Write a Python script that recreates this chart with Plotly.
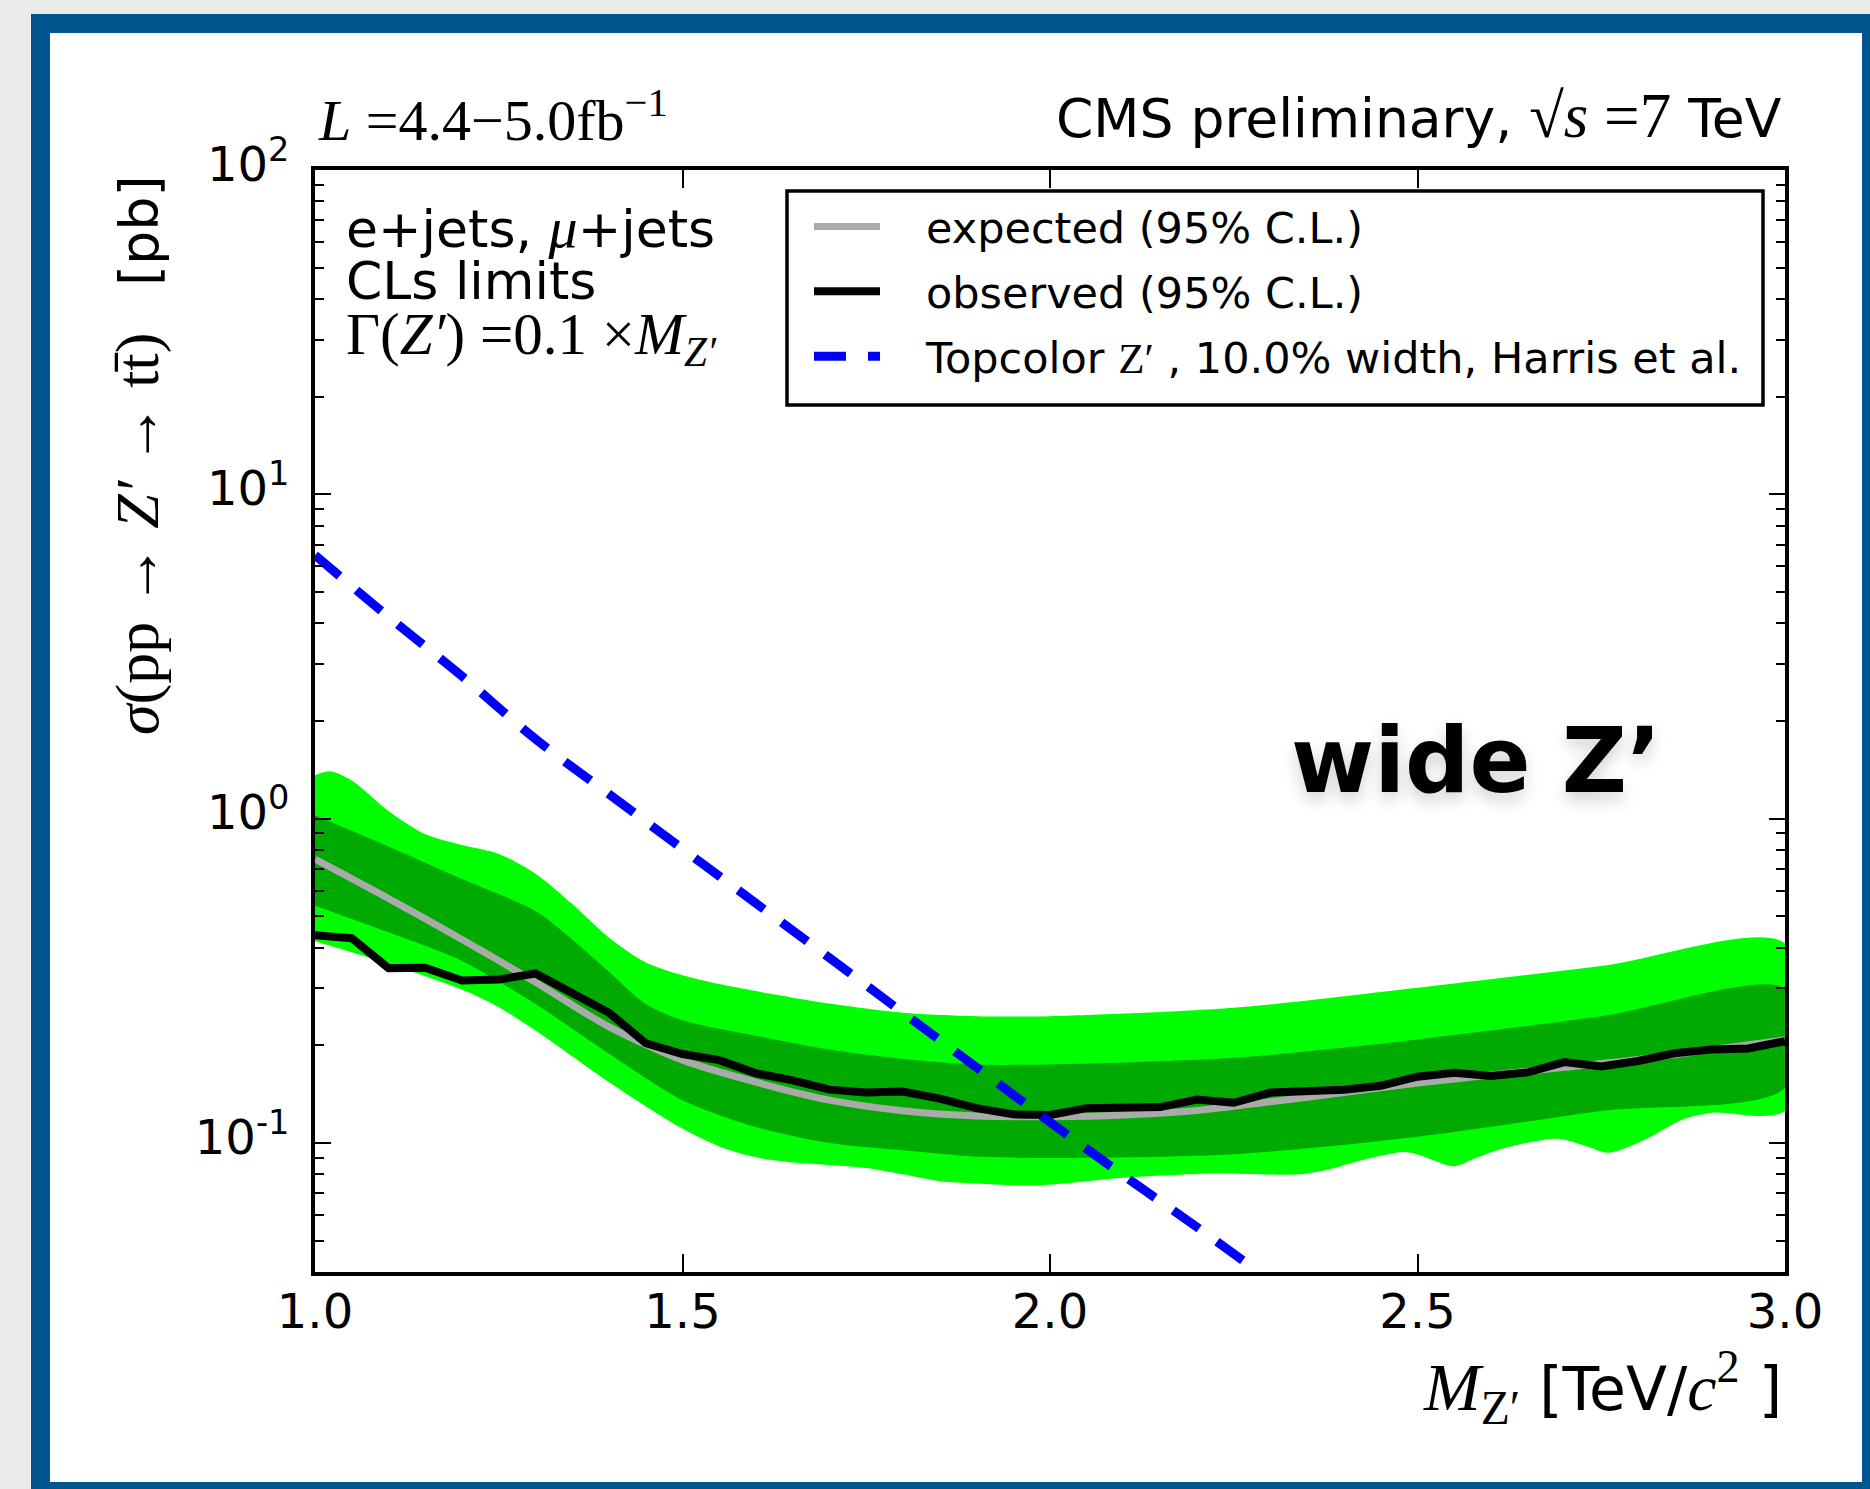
import math
import plotly.graph_objects as go

# ---------------- data ----------------
mass_obs = [1.00, 1.05, 1.10, 1.15, 1.20, 1.25, 1.30, 1.35, 1.40, 1.45, 1.50, 1.55, 1.60, 1.65,
            1.70, 1.75, 1.80, 1.85, 1.90, 1.95, 2.00, 2.05, 2.10, 2.15, 2.20, 2.25, 2.30, 2.35,
            2.40, 2.45, 2.50, 2.55, 2.60, 2.65, 2.70, 2.75, 2.80, 2.85, 2.90, 2.95, 3.00]
xsec_obs = [0.437, 0.428, 0.346, 0.347, 0.317, 0.319, 0.333, 0.290, 0.252, 0.203, 0.188, 0.180,
            0.164, 0.156, 0.146, 0.143, 0.144, 0.137, 0.128, 0.1225, 0.122, 0.128, 0.128, 0.129,
            0.136, 0.133, 0.143, 0.1446, 0.146, 0.150, 0.160, 0.1645, 0.161, 0.165, 0.1775,
            0.172, 0.179, 0.189, 0.194, 0.1955, 0.206]

mass_exp = [1.0, 1.1, 1.2, 1.3, 1.4, 1.5, 1.6, 1.7, 1.8, 1.9, 2.0, 2.1, 2.2, 2.3, 2.4, 2.5,
            2.6, 2.7, 2.8, 2.9, 3.0]
xsec_exp = [0.75, 0.567, 0.424, 0.313, 0.228, 0.180, 0.154, 0.1355, 0.1256, 0.121, 0.1205,
            0.122, 0.126, 0.134, 0.143, 0.153, 0.162, 0.171, 0.181, 0.194, 0.208]

mass_1s_up = [1.0, 1.1, 1.2, 1.3, 1.35, 1.4, 1.45, 1.5, 1.6, 1.7, 1.8, 1.9, 2.0, 2.25, 2.5, 2.75, 3.0]
xsec_1s_up = [1.024, 0.820, 0.651, 0.519, 0.424, 0.337, 0.268, 0.239, 0.214, 0.194, 0.1815,
              0.1746, 0.1746, 0.183, 0.2085, 0.246, 0.2985]
mass_1s_dn = [1.0, 1.1, 1.2, 1.3, 1.4, 1.5, 1.6, 1.7, 1.8, 1.9, 2.0, 2.25, 2.5, 2.75, 3.0]
xsec_1s_dn = [0.539, 0.446, 0.364, 0.268, 0.1884, 0.1355, 0.112, 0.100, 0.095, 0.0908, 0.0899,
              0.0923, 0.1045, 0.1254, 0.148]

mass_2s_up = [1.0, 1.02, 1.05, 1.1, 1.15, 1.2, 1.25, 1.3, 1.35, 1.4, 1.45, 1.5, 1.55, 1.6, 1.7,
              1.8, 1.9, 2.0, 2.25, 2.5, 2.75, 3.0]
xsec_2s_up = [1.36, 1.40, 1.31, 1.055, 0.895, 0.829, 0.778, 0.676, 0.545, 0.429, 0.360, 0.329,
              0.309, 0.294, 0.269, 0.252, 0.246, 0.246, 0.261, 0.301, 0.351, 0.412]
mass_2s_dn = [1.0, 1.1, 1.2, 1.25, 1.3, 1.4, 1.5, 1.55, 1.6, 1.65, 1.7, 1.75, 1.8, 1.85, 1.9,
              1.98, 2.10, 2.22, 2.34, 2.38, 2.42, 2.48, 2.50, 2.55, 2.58, 2.62, 2.69, 2.73,
              2.76, 2.81, 2.86, 2.90, 3.0]
xsec_2s_dn = [0.419, 0.357, 0.297, 0.262, 0.222, 0.154, 0.1107, 0.0975, 0.0903, 0.087, 0.0855,
              0.0837, 0.080, 0.0762, 0.0750, 0.0739, 0.0781, 0.0805, 0.080, 0.0829, 0.0879,
              0.0937, 0.0922, 0.0848, 0.090, 0.0966, 0.103, 0.0977, 0.0933, 0.1025, 0.118,
              0.124, 0.126]

mass_theory = [1.0, 1.1, 1.2, 1.3, 1.4, 1.5, 1.6, 1.7, 1.8, 1.9, 2.0, 2.1, 2.2, 2.27]
xsec_theory = [6.49, 4.19, 2.75, 1.76, 1.19, 0.807, 0.548, 0.372, 0.252, 0.171, 0.116,
               0.0794, 0.055, 0.0422]

x_ticks = [1.0, 1.5, 2.0, 2.5, 3.0]
x_ticklabels = ["1.0", "1.5", "2.0", "2.5", "3.0"]
y_ticks = [0.1, 1, 10, 100]
y_ticklabels = ["10<sup>-1</sup>", "10<sup>0</sup>", "10<sup>1</sup>", "10<sup>2</sup>"]
y_minor = [0.05, 0.06, 0.07, 0.08, 0.09, 0.2, 0.3, 0.4, 0.5, 0.6, 0.7, 0.8, 0.9,
           2, 3, 4, 5, 6, 7, 8, 9, 20, 30, 40, 50, 60, 70, 80, 90]

legend_names = ["expected (95% C.L.)", "observed (95% C.L.)",
                "Topcolor <span style='font-family:Liberation Serif'>Z′</span> , 10.0% width, Harris et al."]

# ---------------- geometry ----------------
W, H = 1870, 1489
ML, MR, MT, MB = 315, 85, 170, 217
PW, PH = W - ML - MR, H - MT - MB


def px(X):
    return (X - ML) / PW


def py(Y):
    return (H - MB - Y) / PH


SERIF = "Liberation Serif"
SANS = "DejaVu Sans"
GAP = "\u00a0\u00a0\u00a0"
NB = "\u00a0"

fig = go.Figure()

fig.add_trace(go.Scatter(
    x=mass_2s_up + mass_2s_dn[::-1], y=xsec_2s_up + xsec_2s_dn[::-1],
    fill="toself", fillcolor="#00ff00", mode="lines",
    line=dict(width=0, color="#00ff00", shape="spline", smoothing=0.8),
    showlegend=False, hoverinfo="skip"))
fig.add_trace(go.Scatter(
    x=mass_1s_up + mass_1s_dn[::-1], y=xsec_1s_up + xsec_1s_dn[::-1],
    fill="toself", fillcolor="#00aa00", mode="lines",
    line=dict(width=0, color="#00aa00", shape="spline", smoothing=0.8),
    showlegend=False, hoverinfo="skip"))
fig.add_trace(go.Scatter(
    x=mass_exp, y=xsec_exp, mode="lines", name=GAP + legend_names[0],
    line=dict(color="#aaaaaa", width=7, shape="spline", smoothing=0.8),
    legendgroup="a"))
fig.add_trace(go.Scatter(
    x=mass_obs, y=xsec_obs, mode="lines", name=GAP + legend_names[1],
    line=dict(color="black", width=8), legendgroup="b"))
fig.add_trace(go.Scatter(
    x=mass_theory, y=xsec_theory, mode="lines", name=GAP + legend_names[2],
    line=dict(color="#0000ff", width=9, dash="32px,22px", shape="spline"), legendgroup="c"))

shapes = [
    dict(type="rect", xref="paper", yref="paper", x0=px(31), x1=px(1900), y0=py(14), y1=py(1510),
         fillcolor="#02568f", line=dict(width=0), layer="below"),
    dict(type="rect", xref="paper", yref="paper", x0=px(50), x1=px(1862), y0=py(33), y1=py(1482),
         fillcolor="white", line=dict(width=0), layer="below"),
    # legend frame
    dict(type="rect", xref="paper", yref="paper", x0=px(787), x1=px(1763), y0=py(191), y1=py(405),
         fillcolor="white", line=dict(width=3.5, color="black"), layer="above"),
]

annotations = [
    dict(text="<i>L</i> =4.4−5.0fb<sup>−1</sup>", x=px(316), y=py(116), xanchor="left",
         yanchor="middle", font=dict(family=SERIF, size=58, color="black")),
    dict(text="CMS preliminary, <span style='font-family:Liberation Serif;font-size:63px'>√<i>s</i>" + NB + "=7</span> TeV",
         x=px(1784), y=py(116), xanchor="right", yanchor="middle",
         font=dict(family=SANS, size=53.5, color="black")),
    dict(text="e+jets, <span style='font-family:Liberation Serif;font-size:58px'><i>μ</i></span>+jets",
         x=px(344), y=py(227), xanchor="left", yanchor="middle",
         font=dict(family=SANS, size=52, color="black")),
    dict(text="CLs limits", x=px(344), y=py(281), xanchor="left", yanchor="middle",
         font=dict(family=SANS, size=52, color="black")),
    dict(text="Γ(<i>Z′</i>) =0.1 ×<i>M</i><sub><i>Z′</i></sub>", x=px(344), y=py(338),
         xanchor="left", yanchor="middle", font=dict(family=SERIF, size=59, color="black")),
    dict(text="<b>wide Z’</b>", x=px(1476), y=py(760), xanchor="center", yanchor="middle",
         font=dict(family=SANS, size=90, color="black", shadow="0px 8px 16px rgba(0,0,0,0.18)")),
    dict(text="<span style='font-family:Liberation Serif;font-size:62px'><i>σ</i>(pp → <i>Z′</i> → tt\u0304)" + NB * 3 + "</span>[pb]",
         x=px(138), y=py(173), xanchor="center", yanchor="top", textangle=-90,
         font=dict(family=SANS, size=54, color="black")),
    dict(text="<span style='font-family:Liberation Serif;font-size:68px'><i>M</i><sub>Z′</sub></span> [TeV/<span style='font-family:Liberation Serif;font-size:66px'><i>c</i><sup>2</sup></span> ]",
         x=px(1784), y=py(1387), xanchor="right", yanchor="middle",
         font=dict(family=SANS, size=60, color="black")),
]
for a in annotations:
    a.update(xref="paper", yref="paper", showarrow=False)

fig.update_layout(
    width=W, height=H, autosize=False,
    margin=dict(l=ML, r=MR, t=MT, b=MB, pad=0),
    paper_bgcolor="#ebebeb", plot_bgcolor="white",
    shapes=shapes, annotations=annotations,
    showlegend=True,
    legend=dict(x=px(809), y=py(192), xanchor="left", yanchor="top",
                bgcolor="rgba(0,0,0,0)", borderwidth=0,
                font=dict(family=SANS, size=43, color="black"),
                itemwidth=66, tracegroupgap=6, traceorder="grouped"),
    xaxis=dict(range=[1, 3], tickmode="array", tickvals=x_ticks, ticktext=x_ticklabels,
               ticks="inside", ticklen=18, tickwidth=2, tickcolor="black",
               showline=True, linewidth=4, linecolor="black", mirror="allticks",
               showgrid=False, zeroline=False, ticklabelstandoff=-6,
               tickfont=dict(family=SANS, size=48, color="black")),
    yaxis=dict(type="log", range=[math.log10(0.04), 2], tickmode="array",
               tickvals=y_ticks, ticktext=y_ticklabels,
               ticks="inside", ticklen=16, tickwidth=2, tickcolor="black",
               showline=True, linewidth=4, linecolor="black", mirror="allticks",
               showgrid=False, zeroline=False, ticklabelstandoff=12, ticklabelshift=-6,
               tickfont=dict(family=SANS, size=48, color="black"),
               minor=dict(tickmode="array", tickvals=y_minor, ticks="inside", ticklen=9,
                          tickwidth=2, tickcolor="black", showgrid=False)),
)

fig.write_html("out.html", config={"displayModeBar": False},
               post_script="document.body.style.margin='0px';")
